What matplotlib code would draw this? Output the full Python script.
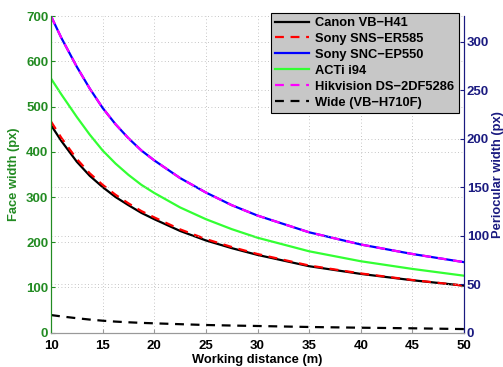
import matplotlib
matplotlib.use("Agg")
import matplotlib.pyplot as plt

# working distance (m)
distance = [10, 11, 12.5, 13.75, 15, 16.25, 17.5, 18.75, 20,
            22.5, 25, 27.5, 30, 35, 40, 45, 50]

# face width (px) per camera
canon_vb_h41 = [459, 424, 378, 347, 322, 300, 282, 265, 251,
                225, 204, 187, 172, 147, 130, 116, 104]
sony_sns_er585 = [467, 431, 384, 352.5, 327, 305, 286, 269, 255,
                  228.5, 207, 189.5, 174, 148.5, 131, 116.5, 104]
sony_snc_ep550 = [700, 652, 588, 540, 497, 461, 430, 403, 381,
                  342, 310, 282, 259, 222, 195, 174, 156]
acti_i94 = [562, 527, 477, 438, 403, 374, 349, 327, 309,
            277, 251, 229, 210, 180, 158, 141, 126]
hikvision = [700, 652, 588, 540, 497, 461, 430, 403, 381,
             342, 310, 282, 259, 222, 195, 174, 156]
wide_vb_h710f = [39, 36, 32, 29, 26.5, 24.5, 23, 21.7, 20.7,
                 18.8, 17, 15.8, 14.8, 12.6, 11, 9.7, 8]

x_ticks = [10, 15, 20, 25, 30, 35, 40, 45, 50]
face_ticks = [0, 100, 200, 300, 400, 500, 600, 700]
peri_ticks = [0, 50, 100, 150, 200, 250, 300]

face_color = "#228B22"
peri_color = "#1a1a80"

plt.rcParams["font.family"] = ["Liberation Sans", "DejaVu Sans"]
plt.rcParams["font.weight"] = "bold"

fig = plt.figure(figsize=(5.03, 3.67), dpi=100)
ax = fig.add_axes([0.1014, 0.0935, 0.8211, 0.8625])
ax2 = ax.twinx()

lw = 1.6
dash = (0, (4, 3))
h1, = ax.plot(distance, canon_vb_h41, color="black", lw=lw, label="Canon VB\u2212H41")
h2, = ax.plot(distance, sony_sns_er585, color="red", lw=lw, ls=dash, label="Sony SNS\u2212ER585")
h3, = ax.plot(distance, sony_snc_ep550, color="blue", lw=lw, label="Sony SNC\u2212EP550")
h4, = ax.plot(distance, acti_i94, color="#33ff33", lw=lw, label="ACTi i94")
h5, = ax.plot(distance, hikvision, color="magenta", lw=lw, ls=dash, label="Hikvision DS\u22122DF5286")
h6, = ax.plot(distance, wide_vb_h710f, color="black", lw=lw, ls=dash, label="Wide (VB\u2212H710F)")

ax.set_xlim(10, 50)
ax.set_ylim(0, 700)
ax.set_xticks(x_ticks)
ax.set_yticks(face_ticks)
ax2.set_ylim(0, 326.5)
ax2.set_yticks(peri_ticks)

grid_kw = dict(color="0.7", linestyle=(0, (1, 3)), linewidth=0.6)
ax.grid(True, **grid_kw)
ax2.grid(True, axis="y", **grid_kw)

ax.set_xlabel("Working distance (m)", fontsize=9.3, fontweight="bold", labelpad=1.5)
ax.set_ylabel("Face width (px)", fontsize=9.3, fontweight="bold", color=face_color, labelpad=4)
ax2.set_ylabel("Periocular width (px)", fontsize=9.3, fontweight="bold", color=peri_color, labelpad=2)

ax.tick_params(axis="x", direction="in", length=3, labelsize=9.5, colors="0.6", labelcolor="black", pad=5)
ax.tick_params(axis="y", direction="in", length=3, labelsize=9.5, colors=face_color, pad=2)
ax2.tick_params(axis="y", direction="in", length=3, labelsize=9.5, colors=peri_color, pad=2)
for a in (ax, ax2):
    for lab in a.get_xticklabels() + a.get_yticklabels():
        lab.set_fontweight("bold")

for a in (ax, ax2):
    a.spines["top"].set_visible(False)
    a.spines["bottom"].set_color("0.6")
    a.spines["left"].set_color(face_color)
    a.spines["right"].set_color(peri_color)

leg = ax2.legend(handles=[h1, h2, h3, h4, h5, h6], loc="upper right",
                 bbox_to_anchor=(458.5 / 503, 1 - 12.5 / 367), bbox_transform=fig.transFigure,
                 fontsize=9.3, frameon=True, fancybox=False, framealpha=1,
                 facecolor="0.78", edgecolor="black", borderpad=0.35, labelspacing=0.3,
                 handlelength=2.6, handletextpad=0.45, borderaxespad=0)
leg.get_frame().set_linewidth(0.8)
for t in leg.get_texts():
    t.set_fontweight("bold")

fig.savefig("out.png", dpi=100)
